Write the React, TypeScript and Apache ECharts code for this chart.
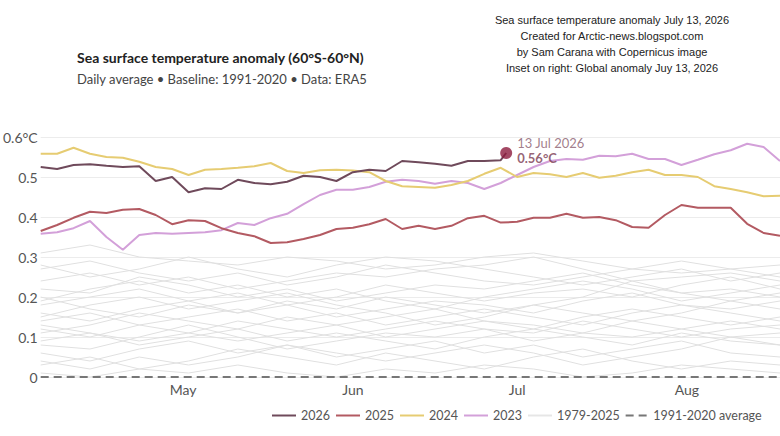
import React, { useEffect, useRef } from "react";
import * as echarts from "echarts";

// Day offsets from 19 April (day 0) to 1 September (day 135)
const sampleDays = [
  0, 3, 6, 9, 12, 15, 18, 21, 24, 27, 30, 33, 36, 39, 42, 45, 48, 51, 54, 57, 60, 63, 66, 69,
  72, 75, 78, 81, 84, 87, 90, 93, 96, 99, 102, 105, 108, 111, 114, 117, 120, 123, 126, 129, 132, 135,
];

// Month labels sit mid-month
const monthTickDays = [26, 57, 87, 118];
const monthNames = ["May", "Jun", "Jul", "Aug"];

const yTicks = [0, 0.1, 0.2, 0.3, 0.4, 0.5, 0.6];

// 2026 runs up to 13 July
const anom2026 = [
  0.525, 0.52, 0.53, 0.532, 0.528, 0.525, 0.527, 0.49, 0.5, 0.462, 0.472, 0.47, 0.493, 0.485, 0.482,
  0.488, 0.503, 0.5, 0.49, 0.512, 0.518, 0.515, 0.54, 0.537, 0.533, 0.528, 0.54, 0.54, 0.542,
];
const latestDay = 85;
const latestValue = 0.56;
const latestDateLabel = "13 Jul 2026";

const anom2025 = [
  0.365, 0.38, 0.398, 0.413, 0.41, 0.418, 0.42, 0.405, 0.382, 0.392, 0.39, 0.372, 0.36, 0.352, 0.335,
  0.337, 0.345, 0.355, 0.37, 0.373, 0.382, 0.395, 0.37, 0.378, 0.37, 0.378, 0.397, 0.403, 0.386, 0.388,
  0.398, 0.398, 0.408, 0.398, 0.4, 0.392, 0.375, 0.373, 0.405, 0.43, 0.423, 0.423, 0.423, 0.383, 0.36,
  0.353,
];

const anom2024 = [
  0.558, 0.558, 0.573, 0.558, 0.55, 0.548, 0.538, 0.525, 0.52, 0.505, 0.518, 0.52, 0.523, 0.527, 0.535,
  0.515, 0.51, 0.517, 0.518, 0.516, 0.512, 0.49, 0.477, 0.475, 0.473, 0.48, 0.49, 0.508, 0.523, 0.5,
  0.51, 0.507, 0.5, 0.51, 0.498, 0.503, 0.512, 0.518, 0.505, 0.505, 0.5, 0.477, 0.47, 0.462, 0.452,
  0.453,
];

const anom2023 = [
  0.358, 0.362, 0.372, 0.39, 0.35, 0.318, 0.355, 0.36, 0.358, 0.36, 0.362, 0.367, 0.385, 0.38, 0.397,
  0.408, 0.432, 0.455, 0.468, 0.468, 0.475, 0.488, 0.493, 0.49, 0.483, 0.49, 0.485, 0.47, 0.485, 0.505,
  0.525, 0.54, 0.545, 0.543, 0.553, 0.552, 0.558, 0.545, 0.545, 0.53, 0.543, 0.557, 0.567, 0.583,
  0.575, 0.54,
];

// Earlier years (1979-2025 background), every 9 days
const grayDays = [0, 9, 18, 27, 36, 45, 54, 63, 72, 81, 90, 99, 108, 117, 126, 135];
const grayYears = [
  [0.31, 0.33, 0.3, 0.29, 0.28, 0.3, 0.29, 0.27, 0.28, 0.3, 0.31, 0.29, 0.27, 0.26, 0.27, 0.25],
  [0.24, 0.26, 0.23, 0.25, 0.22, 0.24, 0.26, 0.25, 0.27, 0.28, 0.3, 0.27, 0.24, 0.25, 0.26, 0.24],
  [0.22, 0.21, 0.25, 0.23, 0.2, 0.22, 0.19, 0.21, 0.23, 0.22, 0.24, 0.26, 0.23, 0.21, 0.22, 0.2],
  [0.18, 0.2, 0.22, 0.19, 0.21, 0.18, 0.2, 0.23, 0.21, 0.19, 0.21, 0.22, 0.2, 0.23, 0.25, 0.22],
  [0.16, 0.14, 0.17, 0.19, 0.16, 0.18, 0.15, 0.17, 0.19, 0.18, 0.16, 0.19, 0.21, 0.18, 0.17, 0.19],
  [0.14, 0.16, 0.13, 0.15, 0.17, 0.14, 0.16, 0.13, 0.15, 0.17, 0.15, 0.13, 0.16, 0.18, 0.16, 0.14],
  [0.12, 0.1, 0.13, 0.11, 0.14, 0.12, 0.1, 0.12, 0.14, 0.12, 0.11, 0.14, 0.12, 0.1, 0.12, 0.13],
  [0.09, 0.11, 0.08, 0.1, 0.12, 0.09, 0.11, 0.09, 0.07, 0.1, 0.12, 0.1, 0.08, 0.11, 0.09, 0.08],
  [0.06, 0.04, 0.07, 0.09, 0.06, 0.08, 0.05, 0.07, 0.09, 0.06, 0.08, 0.05, 0.07, 0.09, 0.06, 0.05],
  [0.03, 0.05, 0.02, 0.04, 0.07, 0.05, 0.03, 0.06, 0.04, 0.02, 0.05, 0.07, 0.04, 0.02, 0.04, 0.03],
  [0.2, 0.17, 0.15, 0.18, 0.16, 0.19, 0.17, 0.2, 0.18, 0.16, 0.18, 0.2, 0.24, 0.21, 0.19, 0.21],
  [0.27, 0.29, 0.26, 0.24, 0.26, 0.23, 0.25, 0.28, 0.26, 0.24, 0.23, 0.25, 0.27, 0.29, 0.27, 0.28],
  [0.15, 0.18, 0.2, 0.17, 0.19, 0.21, 0.18, 0.16, 0.13, 0.15, 0.18, 0.16, 0.14, 0.16, 0.19, 0.17],
  [0.11, 0.13, 0.16, 0.14, 0.12, 0.15, 0.13, 0.15, 0.17, 0.14, 0.12, 0.15, 0.17, 0.15, 0.13, 0.15],
  [0.08, 0.07, 0.1, 0.13, 0.1, 0.07, 0.09, 0.11, 0.1, 0.12, 0.09, 0.11, 0.14, 0.12, 0.1, 0.11],
  [0.04, 0.02, 0.05, 0.03, 0.05, 0.08, 0.06, 0.04, 0.06, 0.08, 0.06, 0.03, 0.05, 0.07, 0.1, 0.08],
  [0.19, 0.22, 0.24, 0.21, 0.23, 0.2, 0.22, 0.19, 0.17, 0.2, 0.22, 0.24, 0.22, 0.19, 0.21, 0.23],
  [0.01, 0.0, 0.02, 0.01, 0.03, 0.01, 0.0, 0.02, 0.01, 0.03, 0.02, 0.0, 0.01, 0.03, 0.02, 0.01],
  [0.28, 0.25, 0.27, 0.3, 0.27, 0.25, 0.28, 0.3, 0.29, 0.27, 0.25, 0.23, 0.25, 0.27, 0.24, 0.26],
  [0.13, 0.11, 0.09, 0.11, 0.09, 0.11, 0.13, 0.1, 0.12, 0.14, 0.13, 0.11, 0.1, 0.12, 0.14, 0.12],
];

const yearNames = ["2026", "2025", "2024", "2023", "1979-2025"];
const averageName = "1991-2020 average";

const creditLines = [
  "Sea surface temperature anomaly July 13, 2026",
  "Created for Arctic-news.blogspot.com",
  "by Sam Carana with Copernicus image",
  "Inset on right: Global anomaly Juy 13, 2026",
];

const FONT = "Lato, 'Noto Sans', sans-serif";

// Legend swatches: a solid bar for yearly lines, two short bars for the dashed baseline
const SOLID_ICON = "rect";
const DASH_ICON = "path://M0,0h8v2h-8z M13,0h8v2h-8z";

const pairs = (days: number[], vals: number[]) => vals.map((v, i) => [days[i], v]);

export default function App() {
  const ref = useRef<HTMLDivElement>(null);

  useEffect(() => {
    if (!ref.current) return;
    const chart = echarts.init(ref.current, null, { renderer: "svg" });

    const yearLine = (name: string, data: number[][], color: string, z: number) => ({
      name,
      type: "line",
      data,
      symbol: "none",
      z,
      lineStyle: { color, width: 2 },
      itemStyle: { color },
      emphasis: { disabled: true },
    });

    const graySeries = grayYears.map((vals) => ({
      name: "1979-2025",
      type: "line",
      data: pairs(grayDays, vals),
      symbol: "none",
      z: 1,
      lineStyle: { color: "#e0e0e0", width: 1 },
      itemStyle: { color: "#e6e6e6" },
      emphasis: { disabled: true },
    }));

    const line2026 = pairs(sampleDays, anom2026).concat([[latestDay, latestValue]]);

    chart.setOption({
      animation: false,
      backgroundColor: "#ffffff",
      title: {
        text: "Sea surface temperature anomaly (60°S-60°N)",
        subtext: "Daily average • Baseline: 1991-2020 • Data: ERA5",
        left: 72,
        top: 45,
        itemGap: 8,
        textStyle: { fontFamily: FONT, fontSize: 14, fontWeight: "bold", color: "#222" },
        subtextStyle: { fontFamily: FONT, fontSize: 13, color: "#444" },
      },
      graphic: [
        {
          type: "text",
          x: 612,
          y: 12,
          style: {
            text: creditLines.join("\n"),
            align: "center",
            verticalAlign: "top",
            fontFamily: "'Liberation Sans', Arial, sans-serif",
            fontSize: 11,
            lineHeight: 16,
            fill: "#222",
          },
        },
      ],
      legend: {
        data: [
          ...yearNames.map((name) => ({ name, icon: SOLID_ICON })),
          { name: averageName, icon: DASH_ICON },
        ],
        left: 272,
        top: 409,
        width: 506,
        padding: 0,
        itemWidth: 24,
        itemHeight: 2,
        itemGap: 6,
        textStyle: { fontFamily: FONT, fontSize: 12.5, color: "#555" },
        selectedMode: false,
      },
      grid: { left: 40, right: 0, top: 137, bottom: 59, containLabel: false },
      xAxis: {
        type: "value",
        min: sampleDays[0],
        max: sampleDays[sampleDays.length - 1],
        axisLine: { show: false },
        axisTick: { show: false },
        splitLine: { show: false },
        axisLabel: {
          customValues: monthTickDays,
          formatter: (v: number) => monthNames[monthTickDays.indexOf(v)] ?? "",
          margin: 5,
          fontFamily: FONT,
          fontSize: 14,
          color: "#555",
        },
      },
      yAxis: {
        type: "value",
        min: yTicks[0],
        max: yTicks[yTicks.length - 1],
        interval: 0.1,
        axisLine: { show: false },
        axisTick: { show: false },
        splitLine: { lineStyle: { color: "#ececec", width: 1 } },
        axisLabel: {
          margin: 3,
          fontFamily: FONT,
          fontSize: 14,
          color: "#555",
          formatter: (v: number) => {
            const r = Math.round(v * 10) / 10;
            if (r === 0) return "0";
            if (r === 0.6) return "0.6°C";
            return r.toFixed(1);
          },
        },
      },
      series: [
        ...graySeries,
        {
          name: averageName,
          type: "line",
          data: [
            [sampleDays[0], 0],
            [sampleDays[sampleDays.length - 1], 0],
          ],
          symbol: "none",
          clip: false,
          z: 2,
          lineStyle: { color: "#777777", width: 2, type: [8, 5] },
          itemStyle: { color: "#777777" },
          emphasis: { disabled: true },
        },
        yearLine("2023", pairs(sampleDays, anom2023), "#d3a0d9", 3),
        yearLine("2024", pairs(sampleDays, anom2024), "#e6cc72", 4),
        yearLine("2025", pairs(sampleDays, anom2025), "#b35a62", 5),
        yearLine("2026", line2026, "#6f4a5b", 6),
        {
          name: "latest",
          type: "scatter",
          data: [[latestDay, latestValue]],
          symbolSize: 12,
          z: 10,
          itemStyle: { color: "#8c1b3d" },
          emphasis: { disabled: true },
          label: {
            show: true,
            position: "right",
            distance: 5,
            offset: [0, -3],
            formatter: () => `{d|${latestDateLabel}}\n{v|${latestValue.toFixed(2)}°C}`,
            rich: {
              d: { fontFamily: FONT, fontSize: 13, color: "#8a5c6e", lineHeight: 15 },
              v: { fontFamily: FONT, fontSize: 13, fontWeight: "bold", color: "#7b3a52", lineHeight: 15 },
            },
          },
        },
      ],
    });

    return () => chart.dispose();
  }, []);

  return (
    <div
      ref={ref}
      style={{ position: "absolute", left: 0, top: 0, width: 780, height: 436 }}
    />
  );
}
